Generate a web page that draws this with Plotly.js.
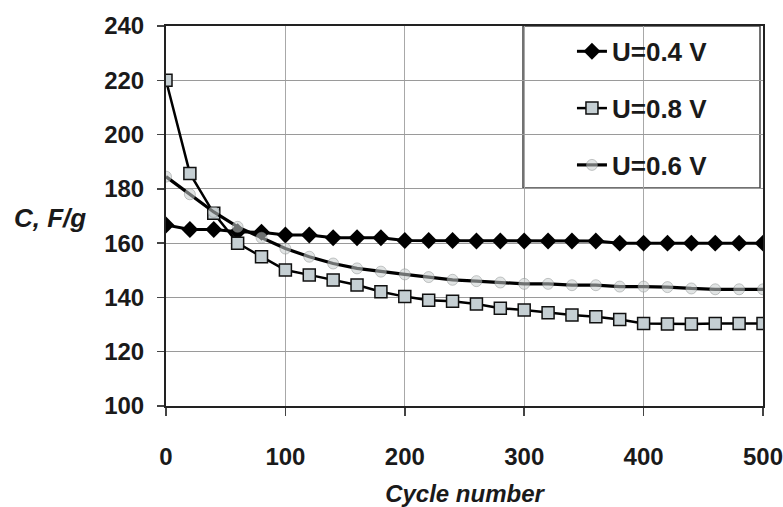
<!DOCTYPE html>
<html>
<head>
<meta charset="utf-8">
<script src="https://cdn.plot.ly/plotly-3.0.1.min.js"></script>
<style>html,body{margin:0;padding:0;background:#fff;}#chart{width:783px;height:507px;}</style>
</head>
<body>
<div id="chart"></div>
<script>
const cycles = [0,20,40,60,80,100,120,140,160,180,200,220,240,260,280,300,320,340,360,380,400,420,440,460,480,500];
const u04 = [166.7,165,165,164.2,164,163,163,162,162,162,161,161,161,160.8,160.8,160.8,160.8,160.8,160.8,160,160,160,160,160,160,160];
const u08 = [220,185.7,171,160,155,150.1,148.3,146.4,144.6,142.1,140.3,139,138.6,137.6,136,135.4,134.4,133.5,132.9,131.9,130.4,130.2,130.2,130.4,130.4,130.4];
const u06 = [184.5,178,171.5,166,162,158,155,152.5,150.7,149.5,148.5,147.5,146.5,146,145.5,145,145,144.5,144.5,144,144,143.8,143.3,143,143,143];
const seriesNames = ['U=0.4 V','U=0.8 V','U=0.6 V'];
const xTicks = [0,100,200,300,400,500];
const yTicks = [100,120,140,160,180,200,220,240];

const F = 'Liberation Sans, Arial, sans-serif';
const traces = [
  {x: cycles, y: u04, name: seriesNames[0], legendgroup:'a', mode:'lines+markers',
   line:{color:'#000', width:3},
   marker:{symbol:'diamond', size:13, color:'#000'}},
  {x: cycles, y: u08, name: seriesNames[1], legendgroup:'b', mode:'lines+markers',
   line:{color:'#000', width:2.5},
   marker:{symbol:'square', size:12, color:'#c5cfd3', line:{color:'#111', width:1.5}}},
  {x: cycles, y: u06, name: seriesNames[2], legendgroup:'c', mode:'lines+markers',
   line:{color:'#000', width:3.2},
   marker:{symbol:'circle', size:11, color:'rgba(200,206,206,0.55)', line:{color:'rgba(130,135,135,0.45)', width:1}}}
];

const layout = {
  width:783, height:507,
  margin:{l:166, r:20, t:26, b:101},
  paper_bgcolor:'#fff', plot_bgcolor:'#fff',
  font:{family:F, color:'#1a1a1a', size:24, weight:'bold'},
  showlegend:true,
  legend:{x:0.68, xanchor:'left', y:0.995, yanchor:'top', bgcolor:'rgba(0,0,0,0)', borderwidth:0,
          traceorder:'grouped', tracegroupgap:20,
          font:{family:F, size:26, weight:'bold', color:'#1a1a1a'}},
  xaxis:{range:[0,500], tickvals:xTicks, ticktext:xTicks.map(String),
         showgrid:true, gridcolor:'#a8a8a8', gridwidth:1,
         showline:true, linecolor:'#222', linewidth:2, mirror:true,
         ticks:'outside', ticklen:8, tickcolor:'#444', tickwidth:1.5,
         ticklabelstandoff:20, ticklabeloverflow:'allow', zeroline:false,
         tickfont:{family:F, size:24, weight:'bold', color:'#1a1a1a'},
         title:{text:'Cycle number', standoff:22, font:{family:F, size:24, weight:'bold', style:'italic', color:'#1a1a1a'}}},
  yaxis:{range:[100,240], tickvals:yTicks, ticktext:yTicks.map(String),
         showgrid:true, gridcolor:'#9a9a9a', gridwidth:1.2,
         showline:true, linecolor:'#222', linewidth:2, mirror:true,
         ticks:'outside', ticklen:7, tickcolor:'#444', tickwidth:1.5,
         ticklabelstandoff:8, zeroline:false,
         tickfont:{family:F, size:24, weight:'bold', color:'#1a1a1a'}},
  shapes:[{type:'rect', xref:'paper', yref:'paper', x0:(523-166)/597, x1:(760-166)/597,
           y0:(406-188)/380, y1:(406-26)/380,
           line:{color:'#444', width:1.5}, fillcolor:'#fff', layer:'below'}],
  annotations:[{xref:'paper', yref:'paper', x:(12-166)/597, xanchor:'left', y:(406-218)/380, yanchor:'middle',
                text:'C, F/g', showarrow:false,
                font:{family:F, size:26, weight:'bold', style:'italic', color:'#1a1a1a'}}]
};

Plotly.newPlot('chart', traces, layout, {staticPlot:true, displayModeBar:false});
</script>
</body>
</html>
